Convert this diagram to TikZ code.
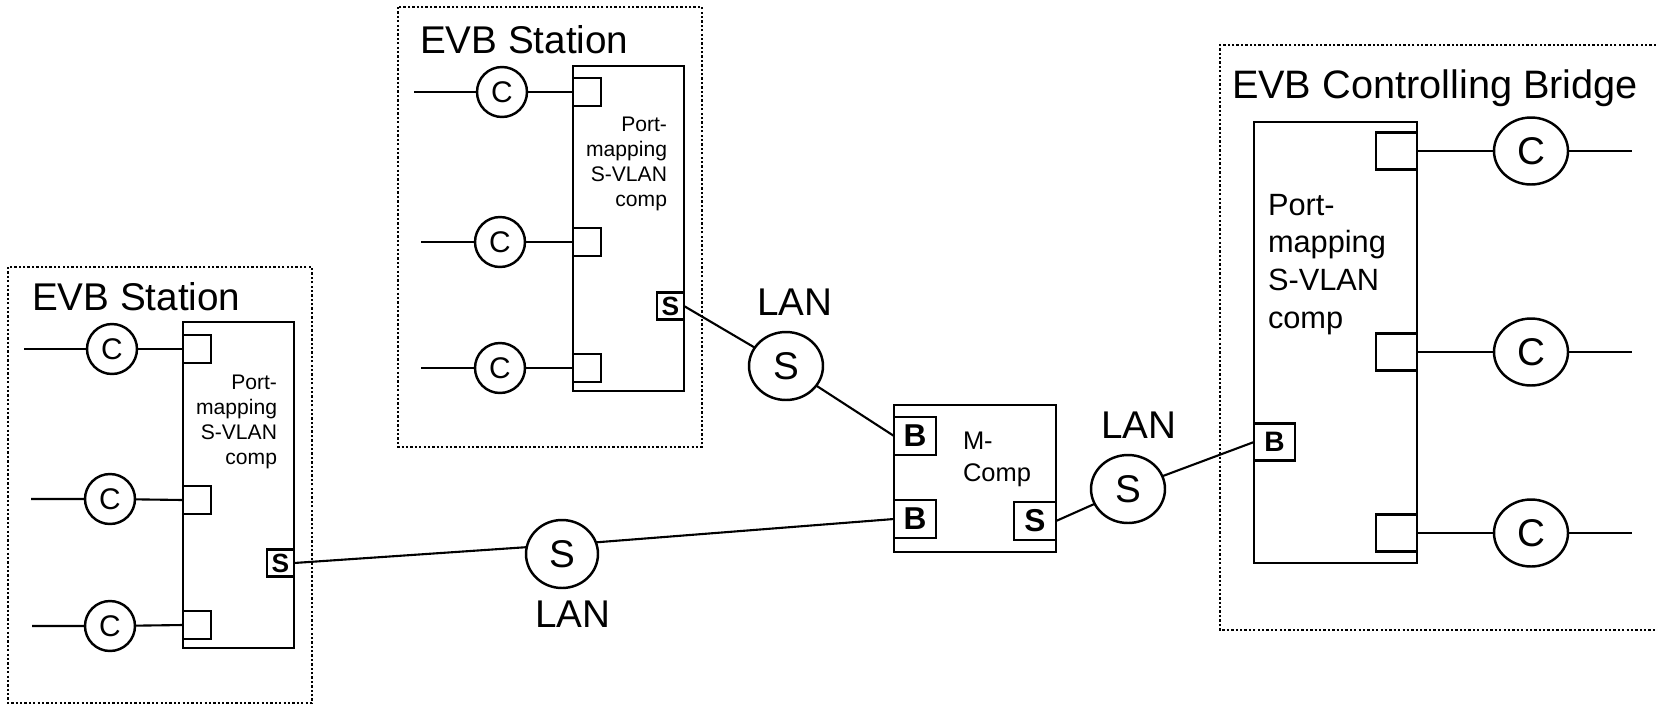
\documentclass[tikz,border=0pt]{standalone}
\usepackage{fontspec}
\setmainfont{Liberation Sans}
\usetikzlibrary{shapes.geometric}

\begin{document}
\begin{tikzpicture}[x=0.02cm,y=-0.02cm,every node/.style={inner sep=0pt, outer sep=0pt},
  wire/.style={line width=1.2pt},
  dotbox/.style={line width=1.4pt, dash pattern=on 1.3pt off 1.2pt},
  comp/.style={draw, line width=1.5pt, anchor=north west},
  cport/.style={draw, fill=white, line width=1.4pt, minimum size=0.56cm},
  sport/.style={draw, fill=white, line width=1.4pt, minimum size=0.54cm, font=\fontsize{15}{17}\selectfont\bfseries},
  bport/.style={draw, fill=white, line width=1.4pt, minimum width=0.84cm, minimum height=0.76cm, font=\fontsize{18}{20}\selectfont\bfseries},
  cnode/.style={draw, circle, line width=1.4pt, minimum size=1cm, font=\fontsize{17}{20}\selectfont},
  bignode/.style={draw, ellipse, line width=1.4pt, minimum width=1.48cm, minimum height=1.36cm, font=\fontsize{22}{26}\selectfont},
  big/.style={font=\fontsize{22}{26}\selectfont}]

\useasboundingbox (0,0) rectangle (1656,707);

% left EVB station
\draw[dotbox] (8,267) rectangle (312,703);
\node[big, anchor=base west] (lsTitle) at (32,310) {EVB Station};
\node[comp, minimum width=2.22cm, minimum height=6.52cm] (lsComp) at (183,322) {};
\node[anchor=north east, align=right, font=\fontsize{12}{14.2}\selectfont] (lsText) at (277,375) {Port-\\mapping\\S-VLAN\\comp};
\node[cport, anchor=west] (lsP1) at (183,349) {};
\node[cport, anchor=west] (lsP2) at (183,500) {};
\node[cport, anchor=west] (lsP3) at (183,625) {};
\node[sport, anchor=east] (lsS) at (294,563) {S};
\node[cnode] (lsC1) at (112,349) {C};
\node[cnode] (lsC2) at (110,499) {C};
\node[cnode] (lsC3) at (110,626) {C};
\coordinate (lsE1) at (24,349);
\coordinate (lsE2) at (31,499);
\coordinate (lsE3) at (32,626);
\draw[wire] (lsE1) -- (lsC1) -- (lsP1.west);
\draw[wire] (lsE2) -- (lsC2) -- (lsP2.west);
\draw[wire] (lsE3) -- (lsC3) -- (lsP3.west);

% top EVB station
\draw[dotbox] (398,7) rectangle (702,447);
\node[big, anchor=base west] (tsTitle) at (420,53) {EVB Station};
\node[comp, minimum width=2.22cm, minimum height=6.5cm] (tsComp) at (573,66) {};
\node[anchor=north east, align=right, font=\fontsize{12}{14.2}\selectfont] (tsText) at (667,117) {Port-\\mapping\\S-VLAN\\comp};
\node[cport, anchor=west] (tsP1) at (573,92) {};
\node[cport, anchor=west] (tsP2) at (573,242) {};
\node[cport, anchor=west] (tsP3) at (573,368) {};
\node[sport, anchor=east] (tsS) at (684,306) {S};
\node[cnode] (tsC1) at (502,92) {C};
\node[cnode] (tsC2) at (500,242) {C};
\node[cnode] (tsC3) at (500,368) {C};
\coordinate (tsE1) at (414,92);
\coordinate (tsE2) at (421,242);
\coordinate (tsE3) at (421,368);
\draw[wire] (tsE1) -- (tsC1) -- (tsP1.west);
\draw[wire] (tsE2) -- (tsC2) -- (tsP2.west);
\draw[wire] (tsE3) -- (tsC3) -- (tsP3.west);

% M-Comp
\node[comp, minimum width=3.24cm, minimum height=2.94cm] (mComp) at (894,405) {};
\node[anchor=north west, align=left, font=\fontsize{14.5}{18.2}\selectfont] (mText) at (963,432) {M-\\Comp};
\node[bport, anchor=west] (mB1) at (894,436) {B};
\node[bport, anchor=west] (mB2) at (894,519) {B};
\node[bport, anchor=east] (mS) at (1056,521) {S};

% EVB controlling bridge
\draw[dotbox] (1656,45) -- (1220,45) -- (1220,630) -- (1656,630);
\node[anchor=base west, font=\fontsize{22.6}{26}\selectfont] (cbTitle) at (1232,98) {EVB Controlling Bridge};
\node[comp, minimum width=3.26cm, minimum height=8.82cm] (cbComp) at (1254,122) {};
\node[anchor=north west, align=left, font=\fontsize{17.5}{21.5}\selectfont] (cbText) at (1268,194) {Port-\\mapping\\S-VLAN\\comp};
\node[bport, anchor=east, minimum width=0.82cm, minimum height=0.74cm] (cbP1) at (1417,151) {};
\node[bport, anchor=east, minimum width=0.82cm, minimum height=0.74cm] (cbP2) at (1417,352) {};
\node[bport, anchor=east, minimum width=0.82cm, minimum height=0.74cm] (cbP3) at (1417,533) {};
\node[bport, anchor=west, minimum width=0.82cm, minimum height=0.74cm, font=\fontsize{16}{19}\selectfont\bfseries] (cbB) at (1254,442) {B};
\node[bignode, minimum height=1.34cm] (cbC1) at (1531,151) {C};
\node[bignode, minimum height=1.34cm] (cbC2) at (1531,352) {C};
\node[bignode, minimum height=1.34cm] (cbC3) at (1531,533) {C};
\coordinate (cbE1) at (1632,151);
\coordinate (cbE2) at (1632,352);
\coordinate (cbE3) at (1632,533);
\draw[wire] (cbP1.east) -- (cbC1) -- (cbE1);
\draw[wire] (cbP2.east) -- (cbC2) -- (cbE2);
\draw[wire] (cbP3.east) -- (cbC3) -- (cbE3);

% LANs
\node[bignode] (lan1) at (786,366) {S};
\node[big, anchor=base] (lan1Label) at (795,315) {LAN};
\node[bignode, minimum width=1.44cm] (lan2) at (562,554) {S};
\node[big, anchor=base] (lan2Label) at (573,627) {LAN};
\node[bignode] (lan3) at (1128,489) {S};
\node[big, anchor=base] (lan3Label) at (1139,438) {LAN};
\draw[wire] (tsS.east) -- (lan1) -- (mB1.west);
\draw[wire] (lsS.east) -- (lan2.169);
\draw[wire] (lan2.19) -- (mB2.west);
\draw[wire] (mS.east) -- (lan3) -- (cbB.west);
\end{tikzpicture}
\end{document}
